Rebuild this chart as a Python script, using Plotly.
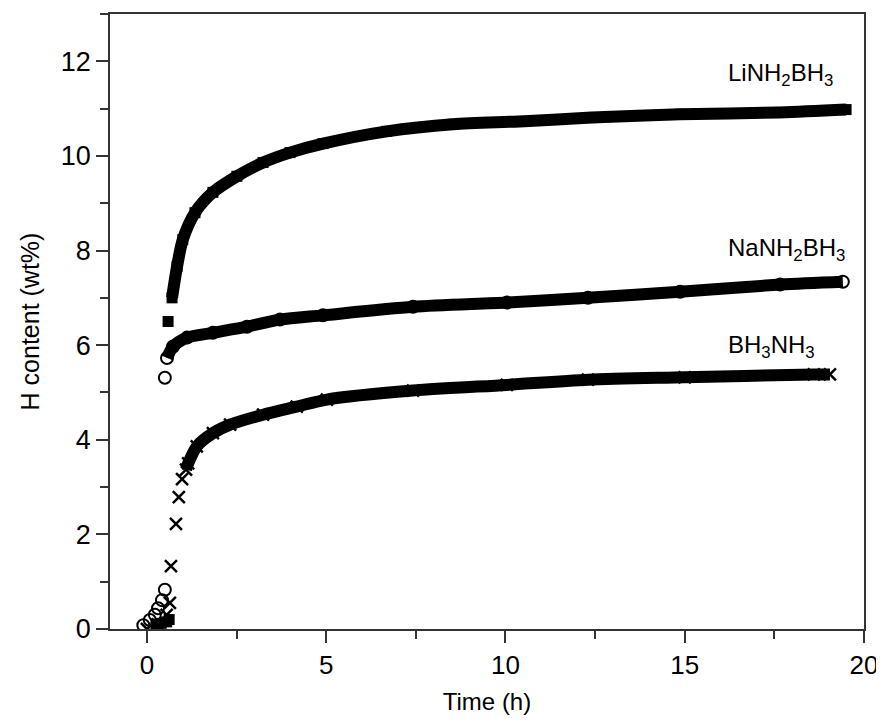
import plotly.graph_objects as go

# ---- data ----
# LiNH2BH3 (filled squares)
li_early_x = [0.25, 0.40, 0.55, 0.62, 0.59]
li_early_y = [0.10, 0.12, 0.15, 0.20, 6.50]
li_x = [0.70, 0.84, 1.00, 1.34, 1.84, 2.51, 3.24, 3.99, 4.91, 6.69, 8.54, 10.4, 12.4, 14.87, 17.66, 19.5]
li_y = [7.00, 7.66, 8.23, 8.80, 9.23, 9.57, 9.86, 10.07, 10.26, 10.52, 10.67, 10.73, 10.81, 10.88, 10.92, 10.98]

# NaNH2BH3 (open circles)
na_early_x = [-0.10, 0.08, 0.22, 0.31, 0.42, 0.50, 0.50]
na_early_y = [0.08, 0.19, 0.30, 0.44, 0.61, 0.83, 5.31]
na_x = [0.56, 0.73, 1.12, 1.84, 2.79, 3.71, 4.91, 7.42, 10.04, 12.3, 14.87, 17.66, 19.41]
na_y = [5.73, 5.97, 6.16, 6.26, 6.39, 6.54, 6.63, 6.81, 6.90, 7.00, 7.13, 7.28, 7.34]

# BH3NH3 (crosses)
ab_early_x = [0.00, 0.30, 0.55, 0.64, 0.67, 0.81, 0.89, 0.98]
ab_early_y = [0.00, 0.10, 0.30, 0.55, 1.33, 2.22, 2.79, 3.17]
ab_x = [1.09, 1.15, 1.39, 1.84, 2.32, 3.24, 4.18, 5.02, 7.42, 10.04, 12.3, 15.0, 18.6, 19.05]
ab_y = [3.37, 3.50, 3.86, 4.14, 4.32, 4.53, 4.70, 4.85, 5.04, 5.16, 5.27, 5.32, 5.38, 5.38]

labels = ["LiNH<sub>2</sub>BH<sub>3</sub>", "NaNH<sub>2</sub>BH<sub>3</sub>", "BH<sub>3</sub>NH<sub>3</sub>"]
label_x = [16.15, 16.15, 16.15]
label_y = [11.72, 8.03, 5.97]

x_ticks = [0, 5, 10, 15, 20]
y_ticks = [0, 2, 4, 6, 8, 10, 12]

FONT = "Liberation Sans, Arial, sans-serif"
BAND = 12

fig = go.Figure()

def add_series(ex, ey, cx, cy, symbol, size, lw):
    fig.add_trace(go.Scatter(
        x=cx, y=cy, mode="lines+markers",
        line=dict(color="black", width=BAND, shape="spline", smoothing=0.8),
        marker=dict(symbol=symbol, size=size, color="black",
                    line=dict(color="black", width=lw)),
        showlegend=False, hoverinfo="skip"))
    fig.add_trace(go.Scatter(
        x=ex, y=ey, mode="markers",
        marker=dict(symbol=symbol, size=size, color="black",
                    line=dict(color="black", width=lw)),
        showlegend=False, hoverinfo="skip"))

add_series(li_early_x, li_early_y, li_x, li_y, "square", 11, 0)
add_series(na_early_x, na_early_y, na_x, na_y, "circle-open", 12, 2)
add_series(ab_early_x, ab_early_y, ab_x, ab_y, "x-thin-open", 12, 2.5)

for t, xx, yy in zip(labels, label_x, label_y):
    fig.add_annotation(x=xx, y=yy, text=t, showarrow=False,
                       xanchor="left", yanchor="middle",
                       font=dict(family=FONT, size=24, color="black"))

# the page body adds an 8px offset, so the figure is sized 8px smaller
fig.update_layout(
    width=876, height=714,
    margin=dict(l=102, r=20, t=6, b=93),
    paper_bgcolor="white", plot_bgcolor="white",
    font=dict(family=FONT, color="black"),
)
fig.update_xaxes(
    range=[-1.03, 20], tickvals=x_ticks, ticks="outside", ticklen=12, tickwidth=1.5,
    tickcolor="#333", showline=True, linecolor="#333", linewidth=1.5, mirror=True,
    showgrid=False, zeroline=False, automargin=False,
    tickfont=dict(family=FONT, size=26, color="black"),
    minor=dict(dtick=2.5, tick0=0, ticks="outside", ticklen=8, tickwidth=1.5, tickcolor="#333"),
    title=dict(text="Time (h)", font=dict(family=FONT, size=24, color="black"), standoff=14),
)
fig.update_yaxes(
    range=[0, 13], tickvals=y_ticks, ticks="outside", ticklen=12, tickwidth=1.5,
    tickcolor="#333", showline=True, linecolor="#333", linewidth=1.5, mirror=True,
    showgrid=False, zeroline=False, automargin=False,
    tickfont=dict(family=FONT, size=27, color="black"),
    minor=dict(dtick=1, tick0=0, ticks="outside", ticklen=8, tickwidth=1.5, tickcolor="#333"),
    title=dict(text="H content (wt%)", font=dict(family=FONT, size=25, color="black"), standoff=14),
)

fig.write_html("out.html")
